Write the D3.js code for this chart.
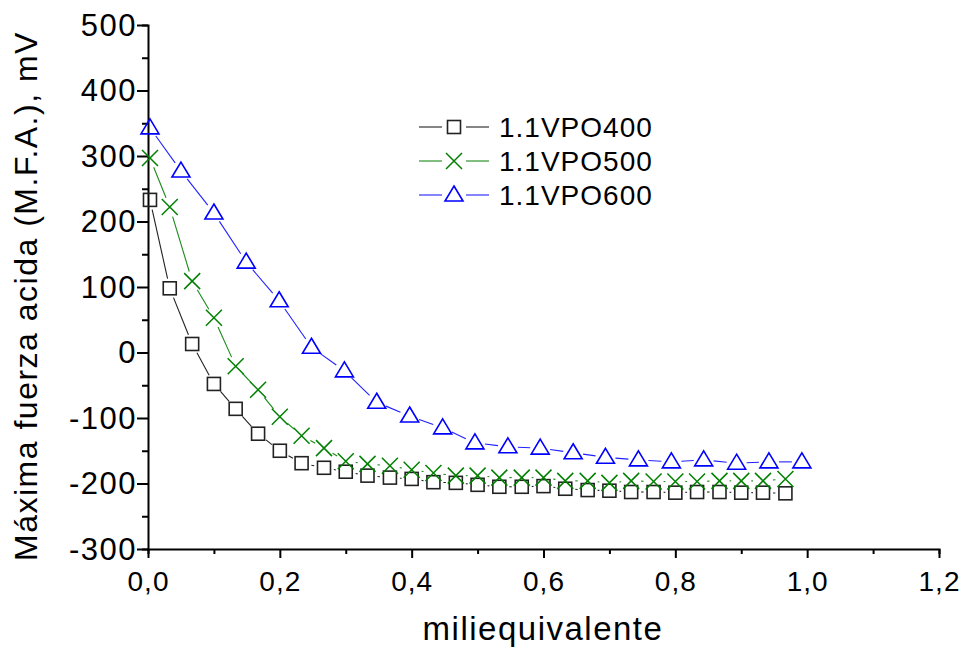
<!DOCTYPE html>
<html>
<head>
<meta charset="utf-8">
<script src="https://cdn.jsdelivr.net/npm/d3@7"></script>
<style>
  body { margin: 0; background: #fff; }
  text { font-family: "Liberation Sans", Arial, sans-serif; fill: #000; }
</style>
</head>
<body>
<div id="chart"></div>
<script>
// data
var xStep30 = [0.003, 0.033, 0.067, 0.1, 0.133, 0.167, 0.2, 0.233, 0.267, 0.3,
               0.333, 0.367, 0.4, 0.433, 0.467, 0.5, 0.533, 0.567, 0.6, 0.633,
               0.667, 0.7, 0.733, 0.767, 0.8, 0.833, 0.867, 0.9, 0.933, 0.967];
var vpo400 = [233, 98, 13, -48, -86, -124, -150, -169, -176, -182,
              -188, -191, -193, -198, -199, -202, -205, -205, -204, -208,
              -210, -211, -213, -213, -214, -213, -213, -214, -214, -215];
var vpo500 = [297, 222, 109, 53, -21, -57, -98, -127, -146, -166,
              -170, -173, -179, -184, -188, -188, -191, -191, -191, -196,
              -196, -199, -196, -197, -197, -197, -196, -196, -196, -193];
var xStep20 = [0.003, 0.05, 0.1, 0.149, 0.199, 0.248, 0.298, 0.347, 0.397, 0.447,
               0.496, 0.546, 0.595, 0.645, 0.694, 0.744, 0.794, 0.843, 0.893, 0.942, 0.992];
var vpo600 = [343, 277, 213, 138, 79, 8, -28, -76, -97, -115,
              -138, -144, -146, -153, -160, -164, -167, -164, -169, -167, -167];
var seriesNames = ["1.1VPO400", "1.1VPO500", "1.1VPO600"];
var xTicks = [0, 0.2, 0.4, 0.6, 0.8, 1.0, 1.2];
var yTicks = [-300, -200, -100, 0, 100, 200, 300, 400, 500];

var width = 961, height = 649;
var margin = {left: 148, right: 22, top: 25, bottom: 100};

var svg = d3.select("#chart").append("svg")
    .attr("width", width)
    .attr("height", height);

var x = d3.scaleLinear().domain([0, 1.2]).range([margin.left, width - margin.right]);
var y = d3.scaleLinear().domain([-300, 500]).range([height - margin.bottom, margin.top]);

var series = [
    {name: seriesNames[0], xs: xStep30, ys: vpo400, color: "#000", lineColor: "#222", mark: "square"},
    {name: seriesNames[1], xs: xStep30, ys: vpo500, color: "#008000", lineColor: "#1a8a1a", mark: "cross"},
    {name: seriesNames[2], xs: xStep20, ys: vpo600, color: "#0000ff", lineColor: "#2020ff", mark: "triangle"}
];

// axes
var xAxis = d3.axisBottom(x).tickValues(d3.range(0, 1.21, 0.1)).tickSize(5).tickFormat("");
var yAxis = d3.axisLeft(y).tickValues(d3.range(-300, 501, 50)).tickSize(6).tickFormat("");

var gx = svg.append("g").attr("transform", "translate(0," + y(-300) + ")").call(xAxis);
var gy = svg.append("g").attr("transform", "translate(" + x(0) + ",0)").call(yAxis);
[gx, gy].forEach(function (g) {
    g.select(".domain").attr("stroke", "#000").attr("stroke-width", 2);
    g.selectAll(".tick line").attr("stroke", "#000").attr("stroke-width", 2);
});
gx.selectAll(".tick line").filter(function (d) { return xTicks.some(function (t) { return Math.abs(t - d) < 1e-6; }); })
    .attr("y2", 9);
gy.selectAll(".tick line").filter(function (d) { return yTicks.indexOf(Math.round(d)) >= 0; })
    .attr("x2", -11);

svg.append("g").selectAll("text").data(xTicks).enter().append("text")
    .attr("x", function (d) { return x(d) + 0.5; })
    .attr("y", 591)
    .attr("text-anchor", "middle")
    .style("font-size", "28px")
    .style("letter-spacing", "1px")
    .text(function (d) { return d.toFixed(1).replace(".", ","); });

svg.append("g").selectAll("text").data(yTicks).enter().append("text")
    .attr("x", 137)
    .attr("y", function (d) { return y(d) + 10.5; })
    .attr("text-anchor", "end")
    .style("font-size", "31px")
    .style("letter-spacing", "1.5px")
    .text(function (d) { return d; });

svg.append("text")
    .attr("x", 543).attr("y", 640)
    .attr("text-anchor", "middle")
    .style("font-size", "33px")
    .style("letter-spacing", "1.5px")
    .text("miliequivalente");

svg.append("text")
    .attr("transform", "translate(37," + 296 + ") rotate(-90)")
    .attr("text-anchor", "middle")
    .style("font-size", "32px")
    .style("letter-spacing", "1.5px")
    .text("Máxima fuerza acida (M.F.A.), mV");

// markers
function drawMark(g, type, color) {
    if (type == "square") {
        g.append("rect").attr("x", -6.5).attr("y", -6.5).attr("width", 13).attr("height", 13)
            .attr("fill", "none").attr("stroke", "#222").attr("stroke-width", 1.6);
    } else if (type == "cross") {
        g.append("path").attr("d", "M-8,-8L8,8M-8,8L8,-8")
            .attr("fill", "none").attr("stroke", color).attr("stroke-width", 1.5);
    } else {
        g.append("path").attr("d", "M0,-9L9,6L-9,6Z")
            .attr("fill", "none").attr("stroke", color).attr("stroke-width", 1.6);
    }
}

var gap = 10;
series.forEach(function (s) {
    var pts = s.xs.map(function (v, i) { return [x(v), y(s.ys[i])]; });
    var segs = [];
    for (var i = 0; i < pts.length - 1; i++) {
        var a = pts[i], b = pts[i + 1];
        var dx = b[0] - a[0], dy = b[1] - a[1];
        var len = Math.sqrt(dx * dx + dy * dy);
        if (len <= gap * 2) continue;
        var ux = dx / len, uy = dy / len;
        segs.push([[a[0] + ux * gap, a[1] + uy * gap], [b[0] - ux * gap, b[1] - uy * gap]]);
    }
    svg.append("g").selectAll("line").data(segs).enter().append("line")
        .attr("x1", function (d) { return d[0][0]; })
        .attr("y1", function (d) { return d[0][1]; })
        .attr("x2", function (d) { return d[1][0]; })
        .attr("y2", function (d) { return d[1][1]; })
        .attr("stroke", s.lineColor)
        .attr("stroke-width", 1.1);

    svg.append("g").selectAll("g").data(pts).enter().append("g")
        .attr("transform", function (d) { return "translate(" + d[0] + "," + d[1] + ")"; })
        .each(function () { drawMark(d3.select(this), s.mark, s.color); });
});

// legend
var legendY = [127, 161, 195];
series.forEach(function (s, i) {
    var g = svg.append("g").attr("transform", "translate(454," + legendY[i] + ")");
    g.append("line").attr("x1", -35).attr("x2", -12).attr("stroke", s.lineColor).attr("stroke-width", 1.1);
    g.append("line").attr("x1", 12).attr("x2", 35).attr("stroke", s.lineColor).attr("stroke-width", 1.1);
    drawMark(g, s.mark, s.color);
    g.append("text").attr("x", 45).attr("y", 10)
        .style("font-size", "28px").style("letter-spacing", "1px")
        .text(s.name);
});
</script>
</body>
</html>
